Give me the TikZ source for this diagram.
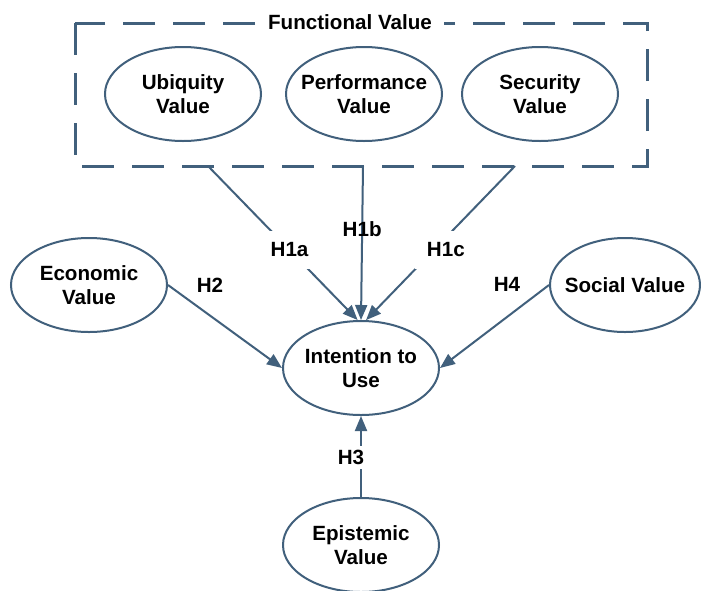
\documentclass[tikz,border=0pt]{standalone}
\usepackage{fontspec}
\setmainfont{Liberation Sans}
\usepackage{tikz}
\usetikzlibrary{arrows.meta,shapes,positioning,calc}
\definecolor{edgeblue}{RGB}{65,96,124}
\tikzset{
  valnode/.style={ellipse, draw=edgeblue, line width=1pt, minimum width=78pt, minimum height=47pt,
    inner xsep=-4pt, inner ysep=0pt, align=center, font=\fontsize{10.3}{12}\selectfont\bfseries},
  hyp/.style={font=\fontsize{10.3}{12}\selectfont\bfseries},
  link/.style={draw=edgeblue, line width=1pt, -{Triangle[length=7.5pt,width=6pt]}},
}

\begin{document}
\begin{tikzpicture}[x=0.5pt,y=-0.5pt]
\useasboundingbox[fill=white] (0,0) rectangle (701,590);
\draw[edgeblue, line width=1.5pt, dash pattern=on 16pt off 9pt] (75,23) rectangle (647,166);
\node[hyp] (func)[fill=white, inner xsep=6pt] at (350,22) {Functional Value};
\node[valnode] (ubq) at (183,94) {Ubiquity\\Value};
\node[valnode] (perf) at (364,94) {Performance\\Value};
\node[valnode] (sec) at (540,94) {Security\\Value};
\node[valnode] (econ) at (89,285) {Economic\\Value};
\node[valnode] (soc)[minimum width=75pt] at (625,285) {Social Value};
\node[valnode] (intent) at (361,368) {Intention to\\Use};
\node[valnode] (epis) at (361,545) {Epistemic\\Value};
\coordinate (fa) at (208,166);
\coordinate (fb) at (363,166);
\coordinate (fc) at (515,166);
\draw[link] (fa) -- node[hyp, fill=white, inner sep=6pt, pos=0.545] (h1a) {H1a} (intent.94);
\draw[link] (fb) -- node[hyp, pos=0.41] (h1b) {H1b} (intent.north);
\draw[link] (fc) -- node[hyp, fill=white, inner sep=6pt, pos=0.545, xshift=6pt] (h1c) {H1c} (intent.84);
\draw[link] (econ.east) -- (intent.west);
\draw[link] (soc.west) -- (intent.east);
\draw[link] (epis.north) -- node[hyp, fill=white, inner sep=2pt, pos=0.49, xshift=-5pt] (h3) {H3} (intent.south);
\node[hyp] (h2) at (210,285) {H2};
\node[hyp] (h4) at (507,284) {H4};
\end{tikzpicture}
\end{document}
